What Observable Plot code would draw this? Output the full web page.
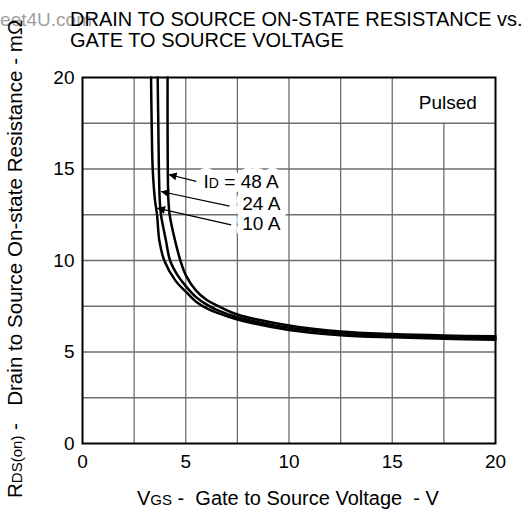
<!DOCTYPE html>
<html><head><meta charset="utf-8">
<script src="https://cdn.jsdelivr.net/npm/d3@7"></script>
<script src="https://cdn.jsdelivr.net/npm/@observablehq/plot@0.6"></script>
<style>
body{margin:0;background:#fff}
svg text{font-family:"Liberation Sans",Arial,sans-serif}
</style>
</head><body><div id="chart"></div>
<script>
// ---- data ----
const vgs10A = [3.32,3.35,3.40,3.51,3.61,3.72,3.96,4.5,5.0,5.5,6.0,6.5,7.5,10,12.5,15,17.5,20];
const rds10A = [20,17.5,15,13.3,12.5,11.1,10,8.9,8.3,7.75,7.4,7.15,6.78,6.2,5.92,5.8,5.72,5.67];
const vgs24A = [3.64,3.67,3.70,3.74,3.80,4.04,4.24,4.6,5.0,5.5,6.0,6.5,7.5,10,12.5,15,17.5,20];
const rds24A = [20,17.5,15,13.3,12.5,11.1,10,9.2,8.6,8.0,7.6,7.3,6.9,6.32,6.02,5.87,5.8,5.75];
const vgs48A = [4.12,4.12,4.13,4.16,4.22,4.48,4.74,5.0,5.5,6.0,6.5,7.5,10,12.5,15,17.5,20];
const rds48A = [20,17.5,15,13.3,12.5,11.1,10,9.2,8.35,7.85,7.55,7.05,6.45,6.12,5.98,5.9,5.86];

const xTicks = [0,5,10,15,20];
const yTicks = [0,5,10,15,20];
const hGridY = [2.5,5,7.5,10,12.5,15,17.5];
const vGridX = [2.5,5,7.5,10,12.5,15,17.5];
const vGridTop = [20,20,20,20,20,20,17.5];

const labelText = ["ID = 48 A","24 A","10 A"];
const labelX = [9.5,9.58,9.58];
const labelY = [14.28,13.11,11.98];
const arrowTailX = [5.51,7.12,7.2];
const arrowTailY = [14.32,12.97,11.95];
const arrowTipX = [4.17,3.8,3.61];
const arrowTipY = [14.7,13.77,12.86];

const noteText = ["Pulsed"];
const noteX = [19.1];
const noteY = [18.6];

// ---- build tables ----
const curves = [
  ["10 A", vgs10A, rds10A],
  ["24 A", vgs24A, rds24A],
  ["48 A", vgs48A, rds48A]
].flatMap(([id, xs, ys]) => xs.map((v, i) => ({id, vgs: v, rds: ys[i]})));
const vGrid = vGridX.map((x, i) => ({x, top: vGridTop[i]}));
const labels = labelText.map((t, i) => ({t, x: labelX[i], y: labelY[i]}));
const arrows = arrowTailX.map((x, i) => ({x1: x, y1: arrowTailY[i], x2: arrowTipX[i], y2: arrowTipY[i]}));
const notes = noteText.map((t, i) => ({t, x: noteX[i], y: noteY[i]}));

const FONT = '"Liberation Sans",Arial,sans-serif';
const svg = Plot.plot({
  width: 528, height: 510,
  marginLeft: 82, marginRight: 33, marginTop: 77, marginBottom: 67,
  style: {fontSize: "19px", fontFamily: FONT, background: "white", color: "black"},
  x: {domain: [0, 20], ticks: xTicks, tickSize: 0, tickPadding: 11, label: null},
  y: {domain: [0, 20], ticks: yTicks, tickSize: 0, tickPadding: 8, label: null},
  marks: [
    Plot.ruleY(hGridY, {stroke: "#6e6e6e", strokeWidth: 1.3}),
    Plot.ruleX(vGrid, {x: "x", y1: 0, y2: "top", stroke: "#6e6e6e", strokeWidth: 1.3}),
    Plot.frame({stroke: "black", strokeWidth: 2}),
    Plot.line(curves, {x: "vgs", y: "rds", z: "id", curve: "catmull-rom", stroke: "black", strokeWidth: 2.5}),
    Plot.text(labels, {x: "x", y: "y", text: "t", textAnchor: "end", fontSize: 19, fill: "white", stroke: "white", strokeWidth: 14}),
    Plot.text(labels, {x: "x", y: "y", text: "t", textAnchor: "end", fontSize: 19, fill: "black"}),
    Plot.text(notes, {x: "x", y: "y", text: "t", textAnchor: "end", fontSize: 19, fill: "black"}),
    Plot.link(arrows, {x1: "x1", y1: "y1", x2: "x2", y2: "y2", stroke: "black", strokeWidth: 1.2})
  ]
});
document.getElementById("chart").appendChild(svg);

const s = d3.select(svg);
// arrowheads
const defs = s.append("defs");
defs.append("marker").attr("id", "ah").attr("viewBox", "0 0 10 10")
  .attr("refX", 10).attr("refY", 5).attr("markerUnits", "userSpaceOnUse")
  .attr("markerWidth", 11).attr("markerHeight", 8).attr("orient", "auto")
  .append("path").attr("d", "M0,0L10,5L0,10z").attr("fill", "black");
s.selectAll('g[aria-label="link"] path').attr("marker-end", "url(#ah)");

// subscript in "ID = 48 A"
s.selectAll('text').filter(function(){ return this.textContent === "ID = 48 A"; }).each(function(){
  const t = d3.select(this);
  t.text(null);
  t.append("tspan").text("I");
  t.append("tspan").attr("font-size", 14).text("D");
  t.append("tspan").text(" = 48 A");
});
// y tick "0" sits slightly higher in the reference
s.selectAll('g[aria-label^="y-axis"] text').filter(function(){ return this.textContent === "0"; })
  .attr("dy", "0em");

// titles and axis labels
const tg = s.append("g").attr("font-family", FONT).attr("font-size", 20)
  .attr("fill", "black").attr("text-anchor", "start");
tg.append("text").attr("x", 92).attr("y", 26).attr("font-size", 19).attr("text-anchor", "end").attr("fill", "#a0a0a0").text("DataSheet4U.com");
tg.append("text").attr("x", 70).attr("y", 26).text("DRAIN TO SOURCE ON-STATE RESISTANCE vs.");
tg.append("text").attr("x", 70).attr("y", 47).text("GATE TO SOURCE VOLTAGE");

const xl = tg.append("text").attr("x", 137).attr("y", 505).style("white-space", "pre");
xl.append("tspan").text("V");
xl.append("tspan").attr("font-size", 15).text("GS");
xl.append("tspan").text(" -  Gate to Source Voltage  - V");

const yl = tg.append("text").attr("font-size", 20.6).attr("transform", "translate(22,498) rotate(-90)").style("white-space", "pre");
yl.append("tspan").text("R");
yl.append("tspan").attr("font-size", 15).text("DS(on)");
yl.append("tspan").text(" -   Drain to Source On-state Resistance - mΩ");
</script>
</body></html>
